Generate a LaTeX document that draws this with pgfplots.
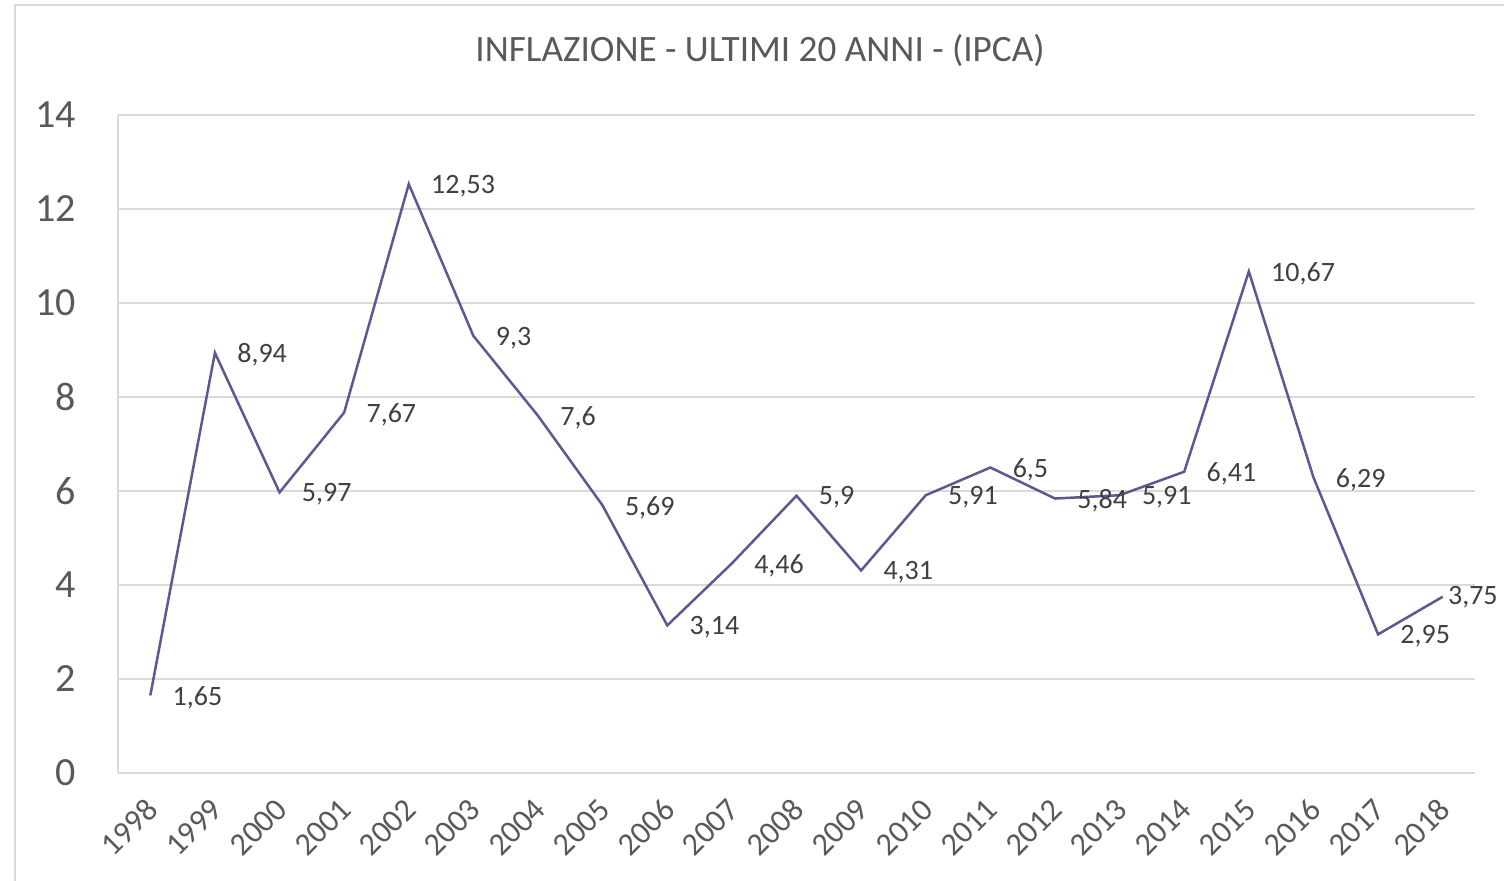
\documentclass[border=0pt]{standalone}
\usepackage{fontspec}
\setmainfont{Carlito}
\usepackage{pgfplots}
\pgfplotsset{compat=1.18}
\definecolor{linec}{RGB}{90,90,145}
\definecolor{gridc}{RGB}{217,217,217}
\definecolor{txt}{RGB}{89,89,89}
\definecolor{lbl}{RGB}{64,64,64}
\pgfplotstableread{
x y lab
0 1.65 1,65
1 8.94 8,94
2 5.97 5,97
3 7.67 7,67
4 12.53 12,53
5 9.3 9,3
6 7.6 7,6
7 5.69 5,69
8 3.14 3,14
9 4.46 4,46
10 5.9 5,9
11 4.31 4,31
12 5.91 5,91
13 6.5 6,5
14 5.84 5,84
15 5.91 5,91
16 6.41 6,41
17 10.67 10,67
18 6.29 6,29
19 2.95 2,95
20 3.75 3,75
}\alldata
\pgfplotstableread{
x y lab
0 1.65 1,65
1 8.94 8,94
2 5.97 5,97
3 7.67 7,67
4 12.53 12,53
5 9.3 9,3
6 7.6 7,6
7 5.69 5,69
8 3.14 3,14
9 4.46 4,46
10 5.9 5,9
11 4.31 4,31
12 5.91 5,91
13 6.5 6,5
14 5.84 5,84
15 5.91 5,91
16 6.41 6,41
17 10.67 10,67
18 6.29 6,29
19 2.95 2,95
}\maindata
\pgfplotstableread{
x y lab
20 3.75 3,75
}\lastdata
\begin{document}
\begin{tikzpicture}
\clip (0pt,0pt) rectangle (752pt,440pt);
\fill[white] (0pt,0pt) rectangle (752pt,440pt);
\draw[gridc, line width=0.75pt] (7.5pt,-20pt) rectangle (780pt,437.5pt);
\node[txt, font=\fontsize{18.6}{22}\selectfont] at (380pt,415pt) {INFLAZIONE - ULTIMI 20 ANNI - (IPCA)};
\begin{axis}[
  at={(59pt,53.5pt)}, anchor=south west,
  width=678.5pt, height=329pt, scale only axis,
  xmin=-0.5, xmax=20.5, ymin=0, ymax=14,
  ytick={0,2,...,14},
  xtick={0,...,20},
  xticklabels={1998,1999,2000,2001,2002,2003,2004,2005,2006,2007,2008,2009,2010,2011,2012,2013,2014,2015,2016,2017,2018},
  ymajorgrids,
  grid style={gridc, line width=0.75pt},
  axis x line*=bottom, axis y line*=left,
  axis line style={gridc, line width=0.75pt, -},
  major tick length=0pt,
  xticklabel style={yshift=-15.5pt, xshift=1pt, rotate=45, anchor=east, inner sep=0pt, font=\fontsize{16}{16}\selectfont, text=txt},
  yticklabel style={anchor=east, inner sep=0pt, xshift=-21pt, font=\fontsize{20}{22}\selectfont, text=txt},
  /pgf/number format/assume math mode=true,
  clip=false,
]
\addplot[linec, line width=1.25pt, mark=none] table[x=x,y=y] {\alldata};
\addplot[draw=none, mark=none, point meta=explicit symbolic, nodes near coords,
  every node near coord/.append style={anchor=west, inner sep=0pt, xshift=11pt, yshift=-1pt, font=\fontsize{14}{14}\selectfont, text=lbl}]
  table[x=x,y=y,meta=lab] {\maindata};
\addplot[draw=none, mark=none, point meta=explicit symbolic, nodes near coords,
  every node near coord/.append style={anchor=west, inner sep=0pt, xshift=2.5pt, yshift=0pt, font=\fontsize{14}{14}\selectfont, text=lbl}]
  table[x=x,y=y,meta=lab] {\lastdata};
\end{axis}
\end{tikzpicture}
\end{document}
